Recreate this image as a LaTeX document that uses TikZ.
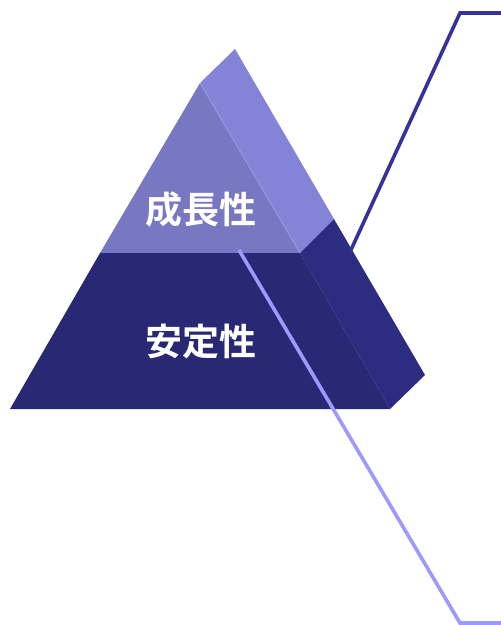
\documentclass[tikz,border=0pt]{standalone}
\usepackage{fontspec}
\newfontfamily\cjk{Noto Sans CJK JP}[BoldFont={* Bold}]
\definecolor{frontup}{HTML}{7877C2}
\definecolor{sideup}{HTML}{8383D8}
\definecolor{frontlow}{HTML}{282874}
\definecolor{sidelow}{HTML}{2C2C80}
\definecolor{lineA}{HTML}{33339B}
\definecolor{lineB}{HTML}{9B9BFF}
\begin{document}
\begin{tikzpicture}[x=1pt,y=-1pt,
  lbl/.style={text=white,font=\cjk\bfseries\fontsize{37}{37}\selectfont,inner sep=0pt},
  leader/.style={line width=3.6pt,line join=miter}]
\useasboundingbox (0,0) rectangle (501,625);
% coordinates
\coordinate (A) at (200,83);
\coordinate (Ab) at (235,49);
\coordinate (L) at (10,409);
\coordinate (R) at (390,409);
\coordinate (Rb) at (425,375);
\coordinate (ML) at (100,253);
\coordinate (MR) at (300,253);
\coordinate (MRb) at (334,219);
% side faces
\fill[sideup] (A) -- (Ab) -- (MRb) -- (MR) -- cycle;
\fill[sidelow] (MR) -- (MRb) -- (Rb) -- (R) -- cycle;
% front faces
\fill[frontup] (A) -- (MR) -- (ML) -- cycle;
\fill[frontlow] (ML) -- (MR) -- (R) -- (L) -- cycle;
\draw[sideup!80!white,line width=0.8pt] (A) -- (MR);
% labels
\node[lbl] (growth) at (201,209) {成長性};
\node[lbl] (stable) at (201,342) {安定性};
% leader lines
\coordinate (a1) at (350,252);
\coordinate (a2) at (460,13);
\coordinate (a3) at (501,13);
\coordinate (b1) at (239,250);
\coordinate (b2) at (460,623);
\coordinate (b3) at (501,623);
\draw[leader,lineA] (a1) -- (a2) -- (a3);
\draw[leader,lineB] (b1) -- (b2) -- (b3);
\end{tikzpicture}
\end{document}
